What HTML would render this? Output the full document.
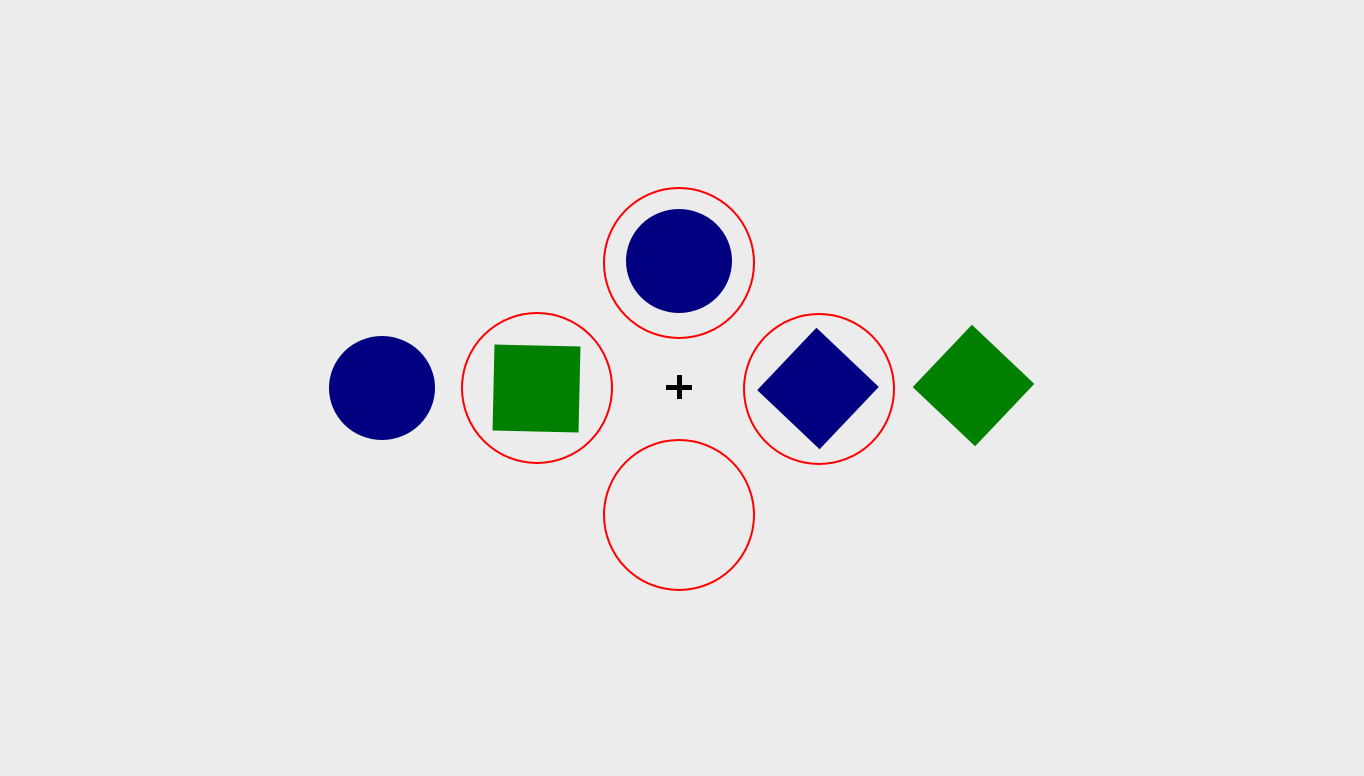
<!DOCTYPE html>
<html><head><meta charset="utf-8">
<style>
html,body{margin:0;padding:0;background:#ececec;}
svg{display:block;}
</style></head>
<body>
<svg id="stim" width="1364" height="776" viewBox="0 0 1364 776" xmlns="http://www.w3.org/2000/svg">
<rect x="0" y="0" width="1364" height="776" fill="#ececec"/>
</svg>
<script>
// ring placeholders: cx, cy
const ringX = [679, 537, 679, 819];
const ringY = [263, 388, 515, 389];
const ringR = 75;
// items: type, cx, cy, size, rotation, color
const itemTypes = ["circle", "circle", "square", "diamond", "diamond"];
const itemX = [679, 382, 536.5, 818, 973.5];
const itemY = [261, 388, 388.5, 388.5, 385.5];
const itemSize = [53, 53, 86, 86, 86];
const itemRot = [0, 0, 1.3, 43.5, 43.5];
const itemColor = ["#000080", "#000080", "#008000", "#000080", "#008000"];
const itemNames = ["target-circle-top", "distractor-circle-left", "square-left-ring", "diamond-right-ring", "diamond-far-right"];

const NS = "http://www.w3.org/2000/svg";
const svg = document.getElementById("stim");

for (let i = 0; i < ringX.length; i++) {
  const c = document.createElementNS(NS, "circle");
  c.setAttribute("cx", ringX[i]);
  c.setAttribute("cy", ringY[i]);
  c.setAttribute("r", ringR);
  c.setAttribute("fill", "none");
  c.setAttribute("stroke", "#ff0000");
  c.setAttribute("stroke-width", "2");
  
  
  svg.appendChild(c);
}

for (let i = 0; i < itemTypes.length; i++) {
  let el;
  if (itemTypes[i] === "circle") {
    el = document.createElementNS(NS, "ellipse");
    el.setAttribute("cx", itemX[i]);
    el.setAttribute("cy", itemY[i]);
    el.setAttribute("rx", itemSize[i]);
    el.setAttribute("ry", itemSize[i] - 1);
  } else {
    const s = itemSize[i];
    el = document.createElementNS(NS, "rect");
    el.setAttribute("x", itemX[i] - s / 2);
    el.setAttribute("y", itemY[i] - s / 2);
    el.setAttribute("width", s);
    el.setAttribute("height", s);
    el.setAttribute("transform", "rotate(" + itemRot[i] + " " + itemX[i] + " " + itemY[i] + ")");
  }
  el.setAttribute("fill", itemColor[i]);
  
  
  svg.appendChild(el);
}

const g = document.createElementNS(NS, "g");


const h = document.createElementNS(NS, "rect");
h.setAttribute("x", 666); h.setAttribute("y", 385); h.setAttribute("width", 26); h.setAttribute("height", 5);
const v = document.createElementNS(NS, "rect");
v.setAttribute("x", 677); v.setAttribute("y", 375); v.setAttribute("width", 5); v.setAttribute("height", 24);
h.setAttribute("fill", "#000"); v.setAttribute("fill", "#000");
g.appendChild(h); g.appendChild(v);
svg.appendChild(g);
</script>
</body></html>
